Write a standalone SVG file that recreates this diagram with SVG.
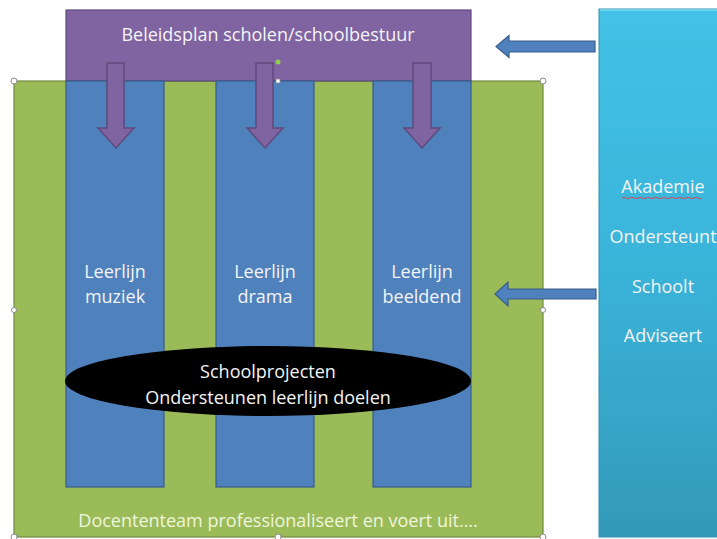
<svg xmlns="http://www.w3.org/2000/svg" width="717" height="539" viewBox="0 0 717 539">
  <defs>
    <linearGradient id="cyanGrad" x1="0" y1="0" x2="0" y2="1">
      <stop offset="0" stop-color="#42c2e6"/>
      <stop offset="0.5" stop-color="#3ab3d9"/>
      <stop offset="1" stop-color="#3399b9"/>
    </linearGradient>
  </defs>
  <style>
    text { font-family: "Open Sans", "Noto Sans", "Liberation Sans", sans-serif; font-size: 18px; fill: #f4f4f4; text-anchor: middle; }
    .purple { fill: #8064a2; stroke: #5e4a7c; stroke-width: 1.2; }
    .green { fill: #9bbb59; stroke: #71893f; stroke-width: 1.2; }
    .blue { fill: #4f81bd; stroke: #385d8a; stroke-width: 1.2; }
    .darrow { fill: #8064a2; stroke: #5e4a7c; stroke-width: 1.5; }
    .larrow { fill: #4f81bd; stroke: #385d8a; stroke-width: 1.2; }
    .handle { fill: #ffffff; stroke: #8c8c8c; stroke-width: 1; }
  </style>

  <g id="team">
    <rect class="green" x="14" y="81" width="529" height="456"/>
    <text x="278" y="527" style="fill:#eef5dd">Docententeam professionaliseert en voert uit….</text>
  </g>

  <g id="beleidsplan">
    <rect class="purple" x="66" y="10" width="405" height="71"/>
    <text x="268" y="41">Beleidsplan scholen/schoolbestuur</text>
  </g>

  <g id="leerlijn-muziek">
    <rect class="blue" x="66" y="81" width="98" height="406"/>
    <text x="115" y="278">Leerlijn</text>
    <text x="115" y="303">muziek</text>
  </g>
  <g id="leerlijn-drama">
    <rect class="blue" x="216" y="81" width="98" height="406"/>
    <text x="265" y="278">Leerlijn</text>
    <text x="265" y="303">drama</text>
  </g>
  <g id="leerlijn-beeldend">
    <rect class="blue" x="373" y="81" width="98" height="406"/>
    <text x="422" y="278">Leerlijn</text>
    <text x="422" y="303">beeldend</text>
  </g>

  <g id="schoolprojecten">
    <ellipse cx="268" cy="381" rx="203" ry="35" fill="#000000"/>
    <text x="268" y="378">Schoolprojecten</text>
    <text x="268" y="404">Ondersteunen leerlijn doelen</text>
  </g>

  <g id="akademie">
    <rect x="599" y="9" width="122" height="528" fill="url(#cyanGrad)" stroke="#2f8fae" stroke-width="1"/>
    <line x1="600" y1="10" x2="717" y2="10" stroke="#7fdcf4" stroke-width="1.5"/>
    <text x="663" y="193">Akademie</text>
    <path d="M622,198 q2,-1.2 4,0 t4,0 t4,0 t4,0 t4,0 t4,0 t4,0 t4,0 t4,0 t4,0 t4,0 t4,0 t4,0 t4,0 t4,0 t4,0 t4,0 t4,0 t4,0 t4,0" fill="none" stroke="#d9485a" stroke-width="1"/>
    <text x="663" y="243">Ondersteunt</text>
    <text x="663" y="293">Schoolt</text>
    <text x="663" y="342">Adviseert</text>
  </g>

  <g id="connectors">
    <path class="darrow" d="M107,63 H124 V128 H134 L116,148 L98,128 H107 Z"/>
    <path class="darrow" d="M256,63 H273 V128 H283 L265,148 L247,128 H256 Z"/>
    <path class="darrow" d="M413,63 H431 V128 H440 L422,148 L404,128 H413 Z"/>
    <path class="larrow" d="M595,41 V52 H509 V57.5 L496,46.5 L509,35.5 V41 Z"/>
    <path class="larrow" d="M596,289 V299 H508 V306 L495,294 L508,282 V289 Z"/>
  </g>

  <g id="selection-handles">
    <circle class="handle" cx="14" cy="81" r="3"/>
    <circle class="handle" cx="543" cy="81" r="3"/>
    <circle class="handle" cx="14" cy="310" r="2.5"/>
    <circle class="handle" cx="543" cy="310" r="2.5"/>
    <circle class="handle" cx="14" cy="537" r="3"/>
    <circle class="handle" cx="278" cy="537" r="3"/>
    <circle class="handle" cx="543" cy="537" r="3"/>
    <rect x="276" y="79" width="4" height="4" fill="#ffffff" stroke="#8c8c8c" stroke-width="0.8"/>
    <circle cx="278" cy="62" r="2.5" fill="#8fd14f"/>
  </g>
</svg>
